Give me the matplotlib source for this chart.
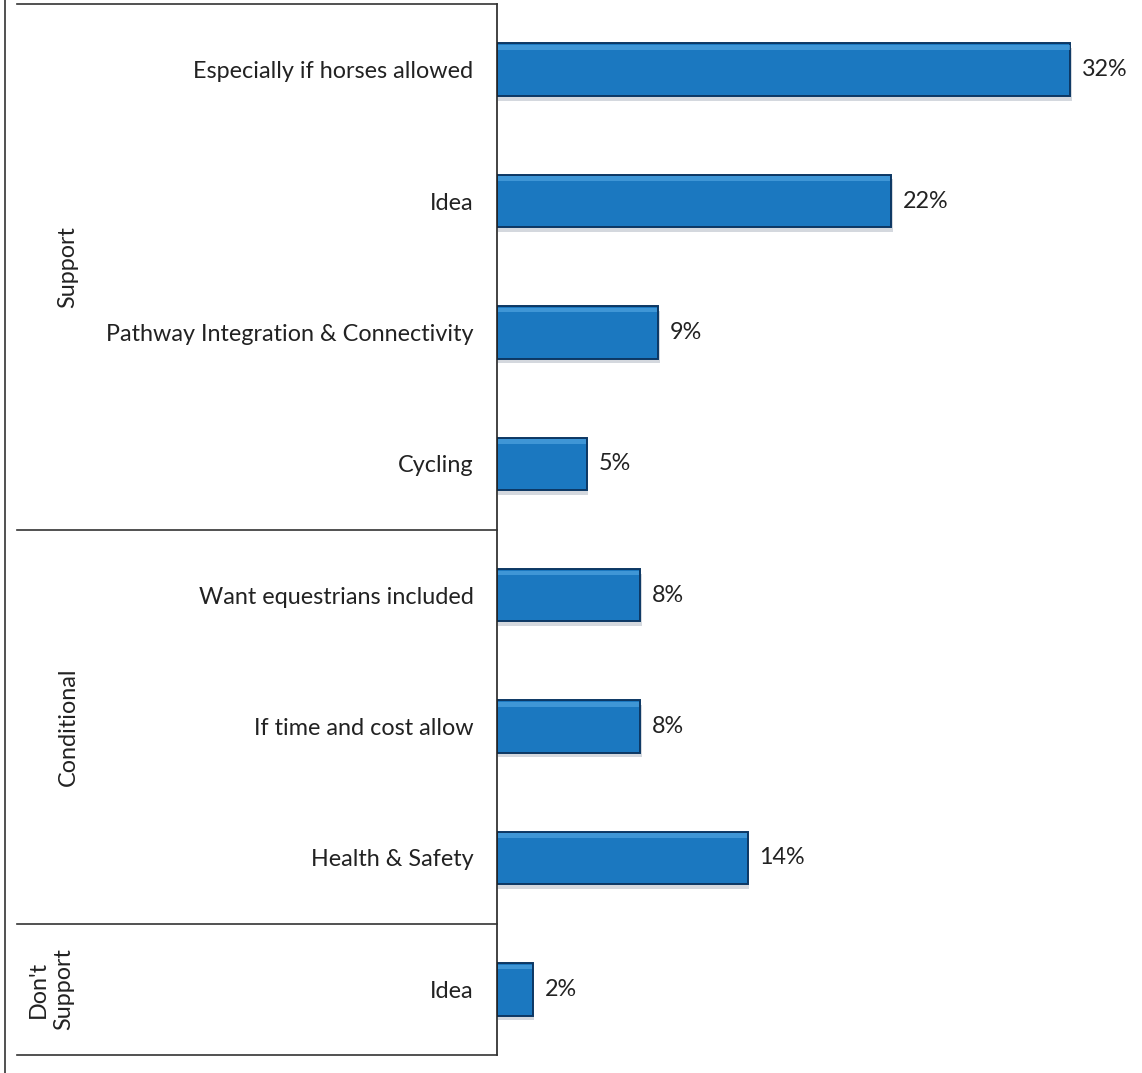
import matplotlib.pyplot as plt
from matplotlib.lines import Line2D

plt.rcParams['font.family'] = ['Lato', 'DejaVu Sans']

categories = ["Especially if horses allowed", "Idea", "Pathway Integration & Connectivity",
              "Cycling", "Want equestrians included", "If time and cost allow",
              "Health & Safety", "Idea"]
values = [32, 22, 9, 5, 8, 8, 14, 2]
groups = ["Support", "Conditional", "Don't\nSupport"]
group_sizes = [4, 3, 1]

W, H = 1142, 1073
fig = plt.figure(figsize=(W / 100, H / 100), dpi=100)
ax = fig.add_axes([497 / W, 1 - 1055 / H, (1135 - 497) / W, (1055 - 4) / H])

n = len(categories)
ypos = list(range(n))
fs = 16.8
# shadow, then bar, then a soft highlight on top
ax.barh([y + 0.035 for y in ypos], values, height=0.4, left=0.08, color="#d4d8de",
        edgecolor="none", zorder=1)
ax.barh(ypos, values, height=0.4, color="#1b78c0", edgecolor="#0c3763", linewidth=1.4, zorder=2)
ax.barh([y - 0.17 for y in ypos], [v - 0.1 for v in values], height=0.035, left=0.05,
        color="#4fa3e0", edgecolor="none", zorder=3, alpha=0.7)

for y, v in zip(ypos, values):
    ax.text(v + 0.65, y, f"{v}%", va="center", ha="left", fontsize=fs, color="#222222")

ax.set_ylim(n - 0.5, -0.5)
ax.set_xlim(0, 35.6)
ax.set_yticks(ypos)
ax.set_yticklabels(categories, fontsize=fs, color="#222222")
ax.tick_params(axis="y", length=0, pad=17)
ax.set_xticks([])
for s in ["top", "right", "bottom"]:
    ax.spines[s].set_visible(False)
ax.spines["left"].set_color("#222222")
ax.spines["left"].set_linewidth(1.2)

# table-like frame on the left
def fx(px):
    return px / W

def fy(py):
    return 1 - py / H

lc = "#333333"
fig.add_artist(Line2D([fx(5), fx(5)], [fy(0), fy(H)], color=lc, lw=1.2))
bounds = [4]
start = 0
for g in group_sizes:
    start += g
    bounds.append(4 + (1055 - 4) * start / n)
for b in bounds:
    fig.add_artist(Line2D([fx(17), fx(497)], [fy(b), fy(b)], color=lc, lw=1.2))

for i, g in enumerate(groups):
    mid = (bounds[i] + bounds[i + 1]) / 2
    fig.text(fx(68) if "\n" not in g else fx(51), fy(mid), g, rotation=90, ha="center",
             va="center", fontsize=fs, color="#222222", linespacing=1.25)

fig.savefig("out.png", dpi=100)
